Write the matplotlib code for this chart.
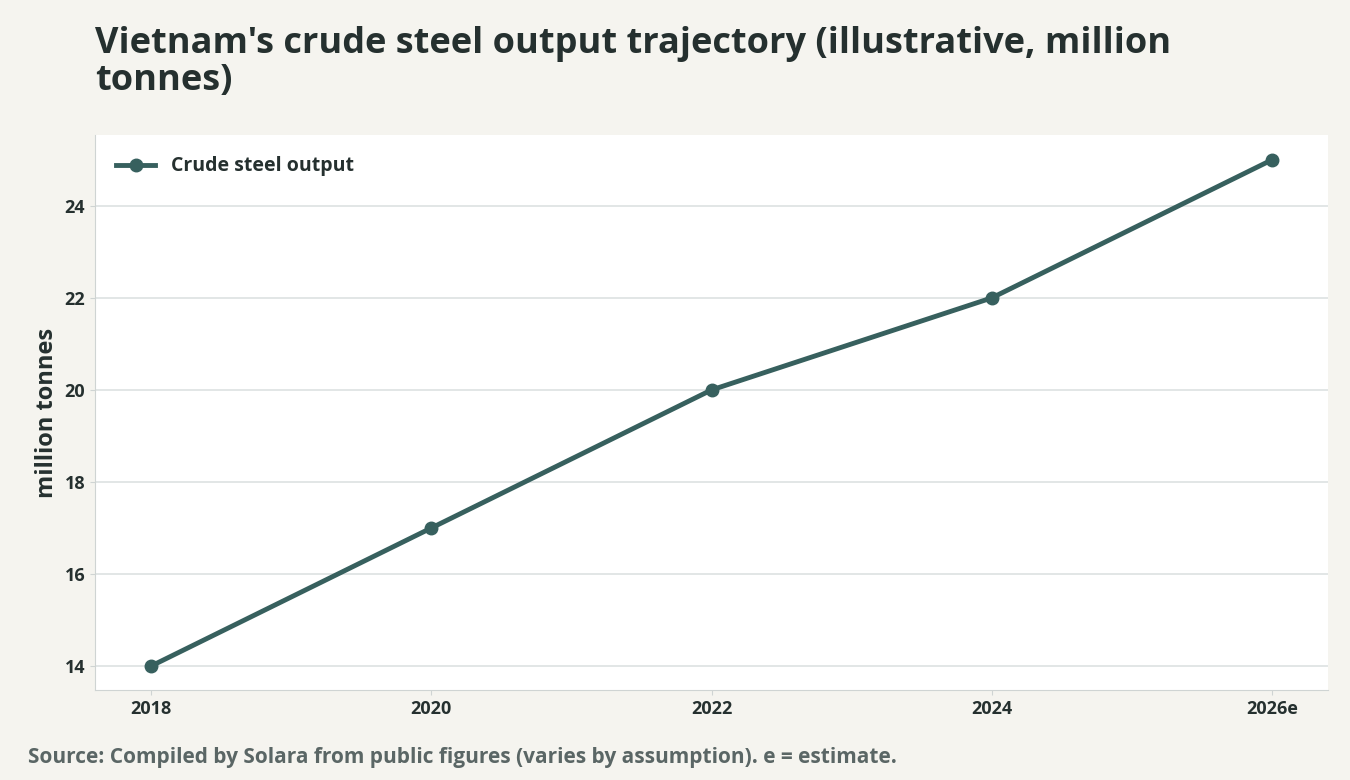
import matplotlib.pyplot as plt

years = ["2018", "2020", "2022", "2024", "2026e"]
output_mt = [14, 17, 20, 22, 25]

BG = "#f5f4ef"
LINE = "#37605e"
TEXT = "#25302f"

plt.rcParams["font.family"] = ["Open Sans", "DejaVu Sans"]

fig = plt.figure(figsize=(13.5, 7.8), dpi=100, facecolor=BG)
ax = fig.add_axes([95 / 1350, 1 - 690 / 780, (1328 - 95) / 1350, (690 - 135) / 780])
ax.set_facecolor("white")

x = list(range(len(years)))
ax.plot(x, output_mt, "o-", color=LINE, linewidth=3.5, markersize=9,
        label="Crude steel output", zorder=3)

ax.set_xlim(-0.2, 4.2)
ax.set_ylim(13.48, 25.54)
ax.set_xticks(x)
ax.set_xticklabels(years)
ax.set_yticks([14, 16, 18, 20, 22, 24])
ax.grid(axis="y", color="#dde2e2", linewidth=1.2)
ax.set_axisbelow(True)
for s in ["top", "right"]:
    ax.spines[s].set_visible(False)
for s in ["left", "bottom"]:
    ax.spines[s].set_color("#cfd4d3")
ax.tick_params(colors="#cfd4d3", labelcolor=TEXT, labelsize=13)
for lab in ax.get_xticklabels() + ax.get_yticklabels():
    lab.set_fontweight("bold")
ax.set_ylabel("million tonnes", fontsize=17, fontweight="bold", color=TEXT)

leg = ax.legend(loc="upper left", frameon=False, prop={"weight": "bold", "size": 14},
                borderaxespad=0.7)
for t in leg.get_texts():
    t.set_color(TEXT)

fig.text(95 / 1350, 1 - 26 / 780,
         "Vietnam's crude steel output trajectory (illustrative, million\ntonnes)",
         fontsize=26, fontweight="bold", color=TEXT, va="top", ha="left",
         linespacing=1.05)
fig.text(28 / 1350, 1 - 757 / 780,
         "Source: Compiled by Solara from public figures (varies by assumption). e = estimate.",
         fontsize=15, fontweight="bold", color="#5a6665", va="center", ha="left")

fig.savefig("out.png", dpi=100, facecolor=BG)
